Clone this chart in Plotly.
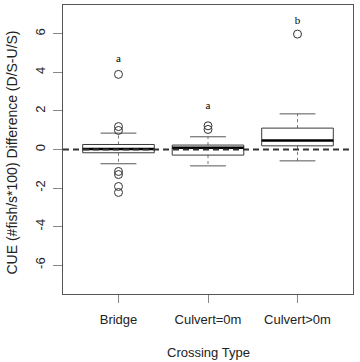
import plotly.graph_objects as go

categories = ["Bridge", "Culvert=0m", "Culvert>0m"]
q1 = [-0.17, -0.29, 0.19]
median = [0.03, 0.09, 0.47]
q3 = [0.26, 0.23, 1.11]
lower_whisker = [-0.74, -0.85, -0.59]
upper_whisker = [0.85, 0.66, 1.85]
outliers = [
    [3.9, 1.19, 0.99, -1.14, -1.30, -1.92, -2.23],
    [1.23, 1.04],
    [5.99],
]
letters = ["a", "a", "b"]
letter_y = [4.7, 2.23, 6.65]

BOX_HALF = 0.4
CAP_HALF = 0.2
BOX_COLOR = "#3a3a3a"
WHISK_COLOR = "#777777"

fig = go.Figure()
for i, cat in enumerate(categories):
    x = i + 1
    fig.add_trace(go.Scatter(x=[x, x, None, x, x], y=[q3[i], upper_whisker[i], None, q1[i], lower_whisker[i]],
                             mode="lines", line=dict(color=WHISK_COLOR, width=1, dash="3px,3px"),
                             hoverinfo="skip", showlegend=False))
    fig.add_trace(go.Scatter(x=[x - CAP_HALF, x + CAP_HALF, None, x - CAP_HALF, x + CAP_HALF],
                             y=[upper_whisker[i], upper_whisker[i], None, lower_whisker[i], lower_whisker[i]],
                             mode="lines", line=dict(color="#555555", width=1),
                             hoverinfo="skip", showlegend=False))
    fig.add_trace(go.Scatter(x=[x - BOX_HALF, x + BOX_HALF, x + BOX_HALF, x - BOX_HALF, x - BOX_HALF],
                             y=[q1[i], q1[i], q3[i], q3[i], q1[i]],
                             mode="lines", line=dict(color=BOX_COLOR, width=1),
                             fill="toself", fillcolor="white",
                             hoverinfo="skip", showlegend=False))
    fig.add_trace(go.Scatter(x=[x - BOX_HALF, x + BOX_HALF], y=[median[i], median[i]],
                             mode="lines", line=dict(color="black", width=2.5),
                             hoverinfo="skip", showlegend=False))
    fig.add_trace(go.Scatter(x=[x] * len(outliers[i]), y=outliers[i], mode="markers",
                             marker=dict(symbol="circle-open", size=8, color="#333333", line=dict(width=1)),
                             hoverinfo="skip", showlegend=False))

fig.add_trace(go.Scatter(x=[1, 2, 3], y=letter_y, mode="text", text=letters,
                         textfont=dict(family="Liberation Serif", size=11, color="black"),
                         hoverinfo="skip", showlegend=False))

fig.add_shape(type="line", xref="paper", x0=0, x1=1, yref="y", y0=0, y1=0,
              line=dict(color="#333333", width=1.8, dash="6px,4px"), layer="above")

fig.add_annotation(text="Crossing Type", xref="paper", x=0.5, yref="paper", y=0,
                   yshift=-58, showarrow=False, xanchor="center", yanchor="middle",
                   font=dict(size=13))
fig.add_annotation(text="CUE (#fish/s*100) Difference (D/S-U/S)", xref="paper", x=0,
                   xshift=-52, yref="paper", y=0.5, yshift=-3, textangle=-90, showarrow=False,
                   xanchor="center", yanchor="middle", font=dict(size=14))

fig.update_layout(
    width=360, height=362,
    margin=dict(l=63, r=7, t=5, b=68),
    paper_bgcolor="white", plot_bgcolor="white",
    font=dict(family="Liberation Sans, Arial, sans-serif", size=13, color="#222222"),
    xaxis=dict(range=[0.38, 3.62], tickmode="array", tickvals=[1, 2, 3], ticktext=categories,
               showgrid=False, zeroline=False, showline=True, linecolor="#555555", linewidth=1,
               mirror=True, ticks="outside", ticklen=8, tickcolor="#888888",
               automargin=False, ticklabelstandoff=5),
    yaxis=dict(range=[-7.5, 7.5], tickmode="array", tickvals=[-6, -4, -2, 0, 2, 4, 6],
               ticktext=["-6", "-4", "-2", "0", "2", "4", "6"], tickangle=-90,
               showgrid=False, zeroline=False, showline=True, linecolor="#555555", linewidth=1,
               mirror=True, ticks="outside", ticklen=9, tickcolor="#888888",
               automargin=False, ticklabelstandoff=3),
)

fig.write_html("out.html", config={"displayModeBar": False},
               post_script="document.body.style.margin='0';document.body.style.overflow='hidden';")
